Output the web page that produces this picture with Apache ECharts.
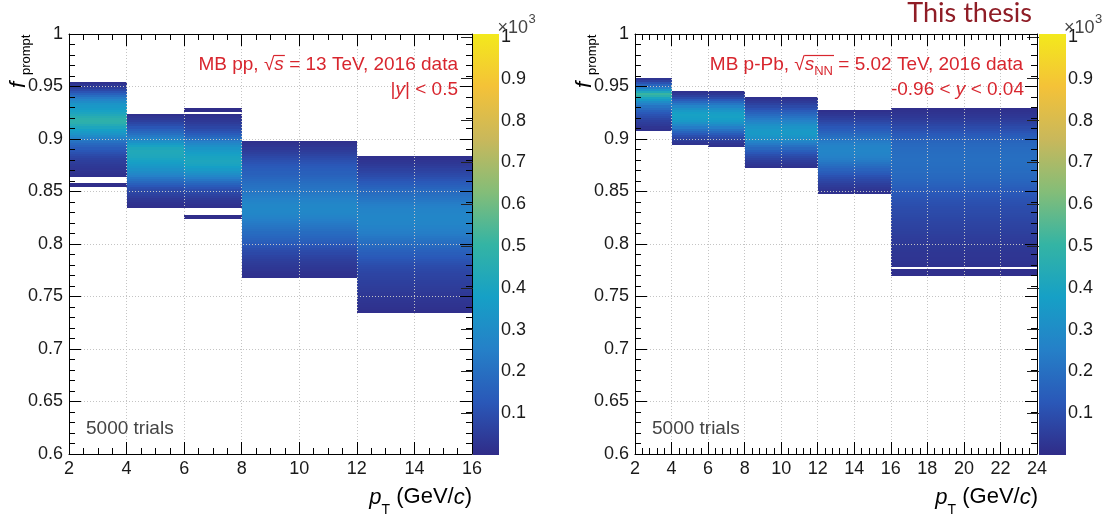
<!DOCTYPE html>
<html><head><meta charset="utf-8">
<script src="https://cdn.jsdelivr.net/npm/echarts@6/dist/echarts.min.js"></script>
<style>html,body{margin:0;padding:0;background:#fff}#c{width:1111px;height:517px}</style>
</head><body><div id="c"></div>
<script>
// ================= DATA =================
const binWidth = 0.002;            // f_prompt bin width
const zMax = 1007;                 // colour-scale maximum (counts)

// --- MB pp, 13 TeV ---
const ppEdges  = [2, 4, 6, 8, 12, 16];
const ppStarts = [0.854, 0.834, 0.824, 0.768, 0.734];   // lower edge of first f bin per pT bin
const pp_2_4 = [4, 6, 0, 0, 0, 12, 18, 22, 28, 35,
  40, 48, 55, 62, 75, 90, 105, 120, 140, 160,
  180, 205, 230, 265, 300, 330, 355, 380, 410, 440,
  470, 480, 475, 455, 430, 405, 385, 360, 345, 330,
  300, 270, 235, 195, 155, 115, 80, 55, 32, 15];
const pp_4_6 = [10, 15, 20, 28, 38, 50, 60, 72, 85, 100,
  125, 150, 175, 200, 225, 255, 280, 300, 320, 340,
  355, 370, 385, 400, 415, 420, 425, 430, 415, 390,
  355, 320, 290, 260, 230, 200, 175, 150, 120, 95,
  75, 55, 40, 28, 15];
const pp_6_8 = [4, 5, 0, 0, 0,
  12, 18, 25, 32, 42, 55, 65, 80, 95, 115,
  140, 165, 190, 220, 250, 280, 305, 330, 355, 375,
  395, 405, 410, 400, 395, 385, 370, 355, 335, 310,
  285, 255, 225, 195, 165, 140, 115, 95, 75, 60,
  45, 35, 25, 18, 10,
  0, 4, 3];
const pp_8_12 = [12, 18, 22, 28, 32, 38, 42, 48, 55, 62,
  70, 80, 90, 100, 112, 125, 140, 150, 160, 170,
  180, 190, 200, 210, 220, 230, 240, 250, 260, 268,
  275, 280, 282, 280, 278, 272, 265, 255, 245, 235,
  228, 220, 212, 205, 198, 190, 180, 170, 160, 150,
  150, 142, 132, 122, 112, 102, 92, 80, 68, 56,
  46, 36, 27, 19, 12];
const pp_12_16 = [10, 14, 16, 20, 22, 26, 28, 32, 35, 38,
  42, 45, 48, 52, 55, 58, 62, 66, 70, 75,
  80, 86, 92, 100, 108, 116, 125, 135, 145, 155,
  165, 175, 185, 195, 205, 215, 225, 235, 245, 252,
  258, 265, 270, 272, 275, 276, 275, 272, 268, 262,
  255, 248, 238, 228, 218, 208, 198, 188, 178, 165,
  152, 140, 128, 115, 102, 90, 80, 70, 60, 50,
  40, 32, 25, 18, 12];

// --- MB p-Pb, 5.02 TeV ---
const pPbEdges  = [2, 4, 6, 8, 12, 16, 24];
const pPbStarts = [0.908, 0.894, 0.892, 0.872, 0.848, 0.770];
const pPb_2_4 = [15, 25, 40, 50, 60, 75, 95, 110, 130, 155,
  185, 215, 255, 300, 350, 400, 470, 510, 420, 330,
  250, 170, 110, 60, 25];
const pPb_4_6 = [20, 35, 55, 75, 100, 130, 165, 200, 240, 280,
  320, 350, 370, 380, 385, 375, 350, 315, 270, 225,
  180, 135, 95, 60, 35, 18];
const pPb_6_8 = [15, 25, 40, 60, 85, 110, 140, 175, 210, 250,
  290, 325, 355, 375, 385, 380, 365, 340, 305, 265,
  220, 175, 130, 90, 58, 32, 15];
const pPb_8_12 = [15, 25, 38, 50, 65, 82, 100, 122, 148, 175,
  205, 235, 265, 295, 320, 340, 350, 352, 345, 330,
  310, 285, 260, 235, 210, 185, 160, 135, 110, 85,
  62, 42, 28, 15];
const pPb_12_16 = [15, 25, 35, 45, 55, 68, 80, 95, 110, 128,
  145, 162, 180, 198, 215, 232, 245, 255, 262, 268,
  270, 268, 262, 252, 240, 225, 210, 192, 175, 158,
  140, 122, 105, 88, 72, 58, 45, 32, 22, 12];
const pPb_16_24 = [10, 12, 10, 0,
  18, 20, 22, 25, 26, 28, 30, 32, 34, 36,
  38, 40, 44, 46, 50, 52, 56, 60, 62, 66,
  68, 72, 75, 78, 82, 85, 88, 92, 95, 100,
  104, 108, 112, 118, 124, 130, 136, 142, 150, 158,
  165, 170, 175, 180, 184, 188, 190, 192, 195, 196,
  198, 198, 196, 195, 192, 190, 186, 180, 175, 168,
  160, 150, 140, 128, 115, 100, 88, 75, 62, 52,
  42, 35, 28, 22, 16, 10];

const zTickValues = [0.1, 0.2, 0.3, 0.4, 0.5, 0.6, 0.7, 0.8, 0.9, 1];
const zTickLabels = ['0.1', '0.2', '0.3', '0.4', '0.5', '0.6', '0.7', '0.8', '0.9', '1'];

// ================= STYLE =================
const palette = ['#302c88', '#2a58b8', '#2580c8', '#16a0c6', '#34b4a4', '#84bd78', '#c9b85b', '#f4c238', '#f3e91c'];
const FONT = 'Liberation Sans';
const RED = '#d8262e';

function buildCells(edges, starts, lists) {
  const out = [];
  lists.forEach((arr, i) => {
    arr.forEach((c, k) => {
      if (c <= 0) return;
      const y0 = +(starts[i] + k * binWidth).toFixed(4);
      out.push([edges[i], edges[i + 1], y0, +(y0 + binWidth).toFixed(4), c]);
    });
  });
  return out;
}
const ppCells = buildCells(ppEdges, ppStarts, [pp_2_4, pp_4_6, pp_6_8, pp_8_12, pp_12_16]);
const pPbCells = buildCells(pPbEdges, pPbStarts, [pPb_2_4, pPb_4_6, pPb_6_8, pPb_8_12, pPb_12_16, pPb_16_24]);

function renderCell(params, api) {
  const a = api.coord([api.value(0), api.value(3)]);
  const b = api.coord([api.value(1), api.value(2)]);
  const x0 = Math.round(a[0]), x1 = Math.round(b[0]);
  const y0 = Math.round(a[1]), y1 = Math.round(b[1]);
  return { type: 'rect', shape: { x: x0, y: y0, width: x1 - x0, height: y1 - y0 },
           style: { fill: api.visual('color') } };
}
function renderBar(params, api) {
  const a = api.coord([api.value(0), api.value(3)]);
  const b = api.coord([api.value(1), api.value(2)]);
  return { type: 'rect', shape: { x: a[0], y: a[1], width: b[0] - a[0], height: b[1] - a[1] },
    style: { fill: new echarts.graphic.LinearGradient(0, 1, 0, 0,
      palette.map((c, i) => ({ offset: i / (palette.length - 1), color: c }))) } };
}

const blk = { color: '#000', width: 1 };
function xAxisDef(grid, max, minorSplit, top) {
  return { type: 'value', gridIndex: grid, min: 2, max: max, interval: 2, position: top ? 'top' : 'bottom', z: 3,
    axisLine: { show: true, onZero: false, lineStyle: blk },
    axisTick: { show: true, inside: true, length: 12, lineStyle: blk },
    minorTick: { show: true, splitNumber: minorSplit, length: 6, lineStyle: blk },
    splitLine: { show: !top, lineStyle: { color: '#c4c4c4', type: [1, 2], width: 1 } },
    axisLabel: { show: !top, margin: 6, fontSize: 18, fontFamily: FONT, color: '#1a1a1a' } };
}
function yAxisDef(grid, right) {
  return { type: 'value', gridIndex: grid, min: 0.6, max: 1, interval: 0.05, position: right ? 'right' : 'left', z: 3,
    axisLine: { show: true, onZero: false, lineStyle: blk },
    axisTick: { show: true, inside: true, length: 12, lineStyle: blk },
    minorTick: { show: true, splitNumber: 5, length: 6, lineStyle: blk },
    splitLine: { show: !right, lineStyle: { color: '#c4c4c4', type: [1, 2], width: 1 } },
    axisLabel: { show: !right, margin: 6, fontSize: 18, fontFamily: FONT, color: '#1a1a1a' } };
}
function barX(grid) { return { type: 'value', gridIndex: grid, min: 0, max: 1, show: false }; }
function barY(grid) {
  return { type: 'value', gridIndex: grid, min: 0, max: zMax / 1000, position: 'right', z: 3,
    axisLine: { show: false },
    axisTick: { show: true, inside: true, length: 12, customValues: zTickValues, lineStyle: { color: '#222', width: 1 } },
    splitLine: { show: false },
    axisLabel: { show: true, margin: 2, fontSize: 18, fontFamily: FONT, color: '#1a1a1a', customValues: zTickValues,
      formatter: v => { const i = zTickValues.findIndex(t => Math.abs(t - v) < 1e-6); return i >= 0 ? zTickLabels[i] : ''; } } };
}

// ---------- text helpers ----------
const mctx = document.createElement('canvas').getContext('2d');
function segFont(s) { return (s.italic ? 'italic ' : '') + s.size + 'px "' + (s.family || FONT) + '"'; }
function segW(s) { mctx.font = segFont(s); return mctx.measureText(s.t).width; }
const K = 0.3465; // em-middle above baseline
function run(segs, x, baseline, anchor, color, extra) {
  const widths = segs.map(segW);
  const total = widths.reduce((a, b) => a + b, 0);
  let cx = anchor === 'right' ? x - total : x;
  const els = [];
  const pos = [];
  segs.forEach((s, i) => {
    const bl = baseline + (s.dy || 0);
    els.push({ type: 'text', x: cx, y: bl - K * s.size, z: 100,
      style: { text: s.t, font: segFont(s), fill: color, align: 'left', verticalAlign: 'middle' } });
    pos.push([cx, widths[i]]);
    cx += widths[i];
  });
  if (extra) extra(pos, els);
  return els;
}
function overline(fromIdx, toIdx, y) {
  return (pos, els) => {
    const x0 = pos[fromIdx][0] - 0.5, x1 = pos[toIdx][0] + pos[toIdx][1] + 1;
    els.push({ type: 'line', z: 100, shape: { x1: x0, y1: y, x2: x1, y2: y }, style: { stroke: RED, lineWidth: 1.2 } });
  };
}
function yTitle(xOff) {
  return [
    { type: 'text', x: 18.4 + xOff, y: 88, rotation: Math.PI / 2, z: 100,
      style: { text: 'f', font: 'italic 22px "' + FONT + '"', fill: '#000', align: 'left', verticalAlign: 'middle' } },
    { type: 'text', x: 26 + xOff, y: 75, rotation: Math.PI / 2, z: 100,
      style: { text: 'prompt', font: '13px "' + FONT + '"', fill: '#000', align: 'left', verticalAlign: 'middle' } }
  ];
}
function xTitle(xr) {
  return run([{ t: 'p', size: 22, italic: true }, { t: 'T', size: 14, dy: 10 }, { t: ' (GeV/', size: 22 },
              { t: 'c', size: 22, italic: true }, { t: ')', size: 22 }], xr, 505, 'right', '#000');
}
function x1000(xl) {
  return run([{ t: '×10', size: 18 }], xl, 34, 'left', '#444')
    .concat(run([{ t: '3', size: 13 }], xl + 31, 24, 'left', '#444'));
}

const graphics = [].concat(
  run([{ t: 'This thesis', size: 27, family: 'Lato' }], 1032, 22.7, 'right', '#8f1d26'),
  run([{ t: 'MB pp, √', size: 19 }, { t: 's', size: 19, italic: true }, { t: ' = 13 TeV, 2016 data', size: 19 }],
      458, 71, 'right', RED, overline(1, 1, 55.5)),
  run([{ t: '|', size: 19 }, { t: 'y', size: 19, italic: true }, { t: '| < 0.5', size: 19 }], 458, 96, 'right', RED),
  run([{ t: 'MB p-Pb, √', size: 19 }, { t: 's', size: 19, italic: true }, { t: 'NN', size: 13, dy: 5 },
       { t: ' = 5.02 TeV, 2016 data', size: 19 }], 1023, 71, 'right', RED, overline(1, 2, 55.5)),
  run([{ t: '-0.96 < ', size: 19 }, { t: 'y', size: 19, italic: true }, { t: ' < 0.04', size: 19 }], 1024, 96, 'right', RED),
  run([{ t: '5000 trials', size: 19 }], 86, 435.5, 'left', '#444'),
  run([{ t: '5000 trials', size: 19 }], 652, 435.5, 'left', '#444'),
  yTitle(0), yTitle(566.5),
  xTitle(472), xTitle(1038),
  x1000(497.6), x1000(1064)
);

const chart = echarts.init(document.getElementById('c'), null, { renderer: 'canvas' });
chart.setOption({
  animation: false,
  backgroundColor: '#fff',
  grid: [
    { left: 69, top: 34, width: 403, height: 420, outerBoundsMode: 'none' },
    { left: 473, top: 34, width: 26, height: 421, outerBoundsMode: 'none' },
    { left: 635, top: 34, width: 402, height: 420, outerBoundsMode: 'none' },
    { left: 1039, top: 34, width: 27, height: 421, outerBoundsMode: 'none' }
  ],
  xAxis: [xAxisDef(0, 16, 4, false), xAxisDef(0, 16, 4, true), barX(1),
          xAxisDef(2, 24, 5, false), xAxisDef(2, 24, 5, true), barX(3)],
  yAxis: [yAxisDef(0, false), yAxisDef(0, true), barY(1),
          yAxisDef(2, false), yAxisDef(2, true), barY(3)],
  visualMap: [{ type: 'continuous', show: false, dimension: 4, seriesIndex: [0, 2], min: 0, max: zMax,
                inRange: { color: palette } }],
  series: [
    { type: 'custom', name: 'pp', xAxisIndex: 0, yAxisIndex: 0, renderItem: renderCell,
      encode: { x: [0, 1], y: [2, 3] }, data: ppCells, z: 2, silent: true },
    { type: 'custom', name: 'ppScale', xAxisIndex: 2, yAxisIndex: 2, renderItem: renderBar,
      encode: { x: [0, 1], y: [2, 3] }, data: [[0, 1, 0, zMax / 1000]], silent: true },
    { type: 'custom', name: 'pPb', xAxisIndex: 3, yAxisIndex: 3, renderItem: renderCell,
      encode: { x: [0, 1], y: [2, 3] }, data: pPbCells, z: 2, silent: true },
    { type: 'custom', name: 'pPbScale', xAxisIndex: 5, yAxisIndex: 5, renderItem: renderBar,
      encode: { x: [0, 1], y: [2, 3] }, data: [[0, 1, 0, zMax / 1000]], silent: true }
  ],
  graphic: graphics
});
</script></body></html>
